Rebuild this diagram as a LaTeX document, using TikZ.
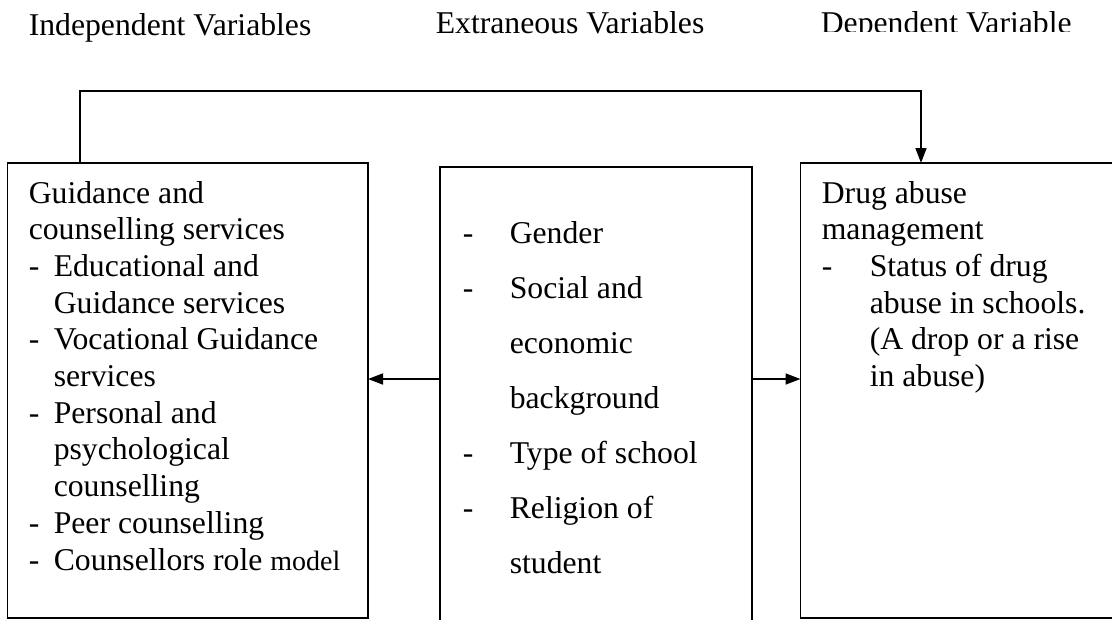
\documentclass[tikz,border=0pt]{standalone}
\usepackage{fontspec}
\setmainfont{Liberation Serif}
\usepackage{array}
\usetikzlibrary{arrows.meta}
\begin{document}
\begin{tikzpicture}[x=1pt,y=-1pt,line width=1.6pt,
  box/.style={draw,rectangle,inner sep=0pt,outer sep=0pt},
  txt/.style={anchor=base west,inner sep=0pt,font=\fontsize{31.7}{36.7}\selectfont},
  arr/.style={-{Triangle[length=15pt,width=11pt]}}]
\clip (0,0) rectangle (1112,619);
% headers
\node[txt] (h1) at (28,35) {Independent Variables};
\node[txt] (h2) at (435,33) {Extraneous Variables};
\begin{scope}
\clip (780,0) rectangle (1112,31);
\node[txt] (h3) at (820,33.5) {Dependent Variable};
\end{scope}
% boxes
\node[box,minimum width=360.5pt,minimum height=455pt] (L) at (187.75,390.5) {};
\node[box,minimum width=312pt,minimum height=480pt] (M) at (596,407) {};
\node[box,minimum width=340pt,minimum height=455pt] (R) at (970.5,390.5) {};
% texts
\node[txt] (Lt) at (28,203) {\begin{tabular}[t]{@{}p{25pt}@{}l@{}}
\multicolumn{2}{@{}l@{}}{Guidance and}\\
\multicolumn{2}{@{}l@{}}{counselling services}\\
- & Educational and\\
  & Guidance services\\
- & Vocational Guidance\\
  & services\\
- & Personal and\\
  & psychological\\
  & counselling\\
- & Peer counselling\\
- & Counsellors role {\fontsize{28}{36.7}\selectfont model}
\end{tabular}};
\node[txt,font=\fontsize{31.7}{55}\selectfont] (Mt) at (462,243) {\begin{tabular}[t]{@{}p{47pt}@{}l@{}}
- & Gender\\
- & Social and\\
  & economic\\
  & background\\
- & Type of school\\
- & Religion of\\
  & student
\end{tabular}};
\node[txt] (Rt) at (821,203) {\begin{tabular}[t]{@{}p{48pt}@{}l@{}}
\multicolumn{2}{@{}l@{}}{Drug abuse}\\
\multicolumn{2}{@{}l@{}}{management}\\
- & Status of drug\\
  & abuse in schools.\\
  & (A drop or a rise\\
  & in abuse)
\end{tabular}};
% connectors
\coordinate (tl) at (80,91);
\coordinate (tr) at (921,91);
\coordinate (ay) at (0,379);
\draw[arr] (L.north -| tl) -- (tl) -- (tr) -- (R.north -| tr);
\draw[arr] (M.west |- ay) -- (L.east |- ay);
\draw[arr] (M.east |- ay) -- (R.west |- ay);
\end{tikzpicture}
\end{document}
